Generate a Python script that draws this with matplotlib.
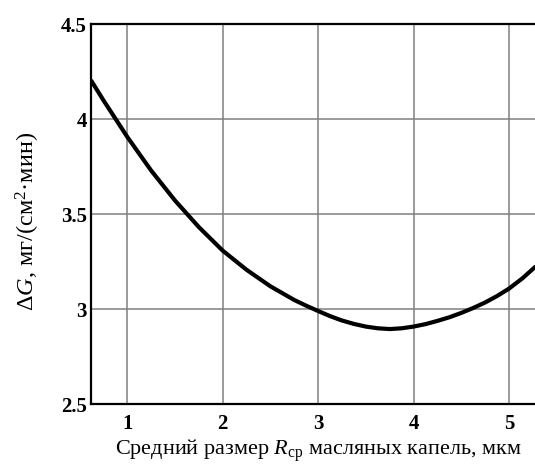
import numpy as np
import matplotlib
matplotlib.use('Agg')
from matplotlib import pyplot as plt

# mean oil droplet size, um
r_mean = [0.62, 0.75, 1.0, 1.25, 1.5, 1.75, 2.0, 2.25, 2.5, 2.75, 2.875, 3.0,
          3.125, 3.25, 3.375, 3.5, 3.625, 3.75, 3.875, 4.0, 4.125, 4.25, 4.375,
          4.5, 4.625, 4.75, 4.875, 5.0, 5.14, 5.28]
# mass loss rate, mg/(cm^2*min)
dG = [4.205, 4.10, 3.907, 3.730, 3.572, 3.432, 3.308, 3.207, 3.120, 3.048, 3.018, 2.990,
      2.963, 2.940, 2.922, 2.908, 2.899, 2.895, 2.899, 2.908, 2.921, 2.938, 2.957,
      2.980, 3.006, 3.035, 3.069, 3.108, 3.162, 3.225]

xticks = [1, 2, 3, 4, 5]
yticks = [2.5, 3, 3.5, 4, 4.5]
ytick_labels = ['2.5', '3', '3.5', '4', '4.5']

plt.rcParams['font.family'] = ['Liberation Serif', 'DejaVu Serif']
plt.rcParams['mathtext.fontset'] = 'custom'
plt.rcParams['mathtext.rm'] = 'Liberation Serif'
plt.rcParams['mathtext.it'] = 'Liberation Serif:italic'

my_dpi = 100
fig = plt.figure(figsize=(535/my_dpi, 465/my_dpi), dpi=my_dpi)
ax = fig.add_axes([0.170, 0.131, 0.835, 0.817])

ax.plot(r_mean, dG, color='black', lw=3.0, solid_capstyle='butt', solid_joinstyle='round')

ax.set_xlim(0.62, 5.30)
ax.set_ylim(2.5, 4.5)
ax.set_xticks(xticks)
ax.set_yticks(yticks)
ax.set_yticklabels(ytick_labels)
ax.grid(True, color='#808080', lw=1.1)
ax.set_axisbelow(True)
ax.tick_params(length=0, labelsize=15)
ax.tick_params(axis='x', pad=7)
ax.tick_params(axis='y', pad=3)
for lbl in ax.get_xticklabels() + ax.get_yticklabels():
	lbl.set_fontweight('bold')

for side in ['left', 'top', 'bottom']:
	ax.spines[side].set_linewidth(1.6)
ax.spines['right'].set_visible(False)

ax.set_xlabel(r'Средний размер $R_{\mathrm{ср}}$ масляных капель, мкм', fontsize=16)
ax.set_ylabel(r'$\Delta G$, мг/(см$^2$·мин)', fontsize=17.5)
ax.xaxis.set_label_coords(0.51, -0.088)
ax.yaxis.set_label_coords(-0.11, 0.48)

plt.savefig('out.png', dpi=my_dpi)
